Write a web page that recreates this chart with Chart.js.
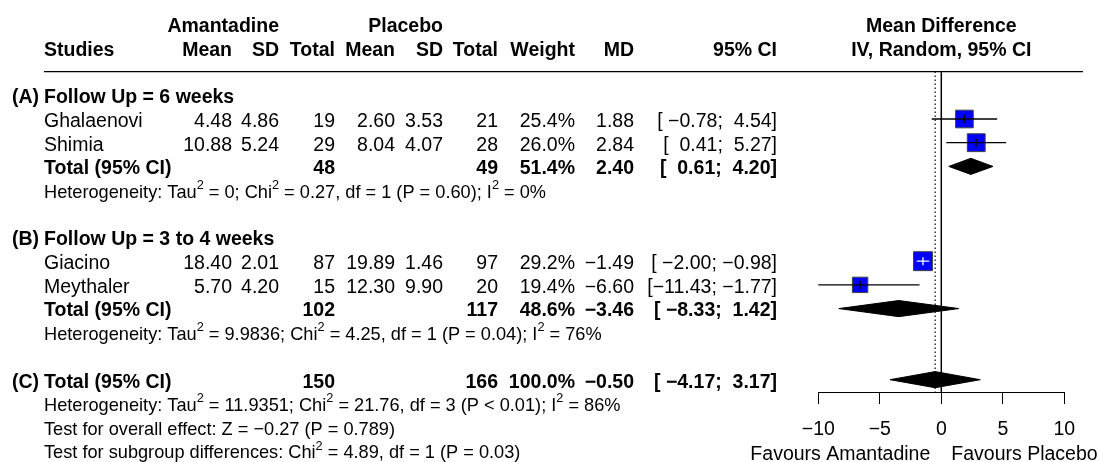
<!DOCTYPE html>
<html><head><meta charset="utf-8">
<script src="https://cdn.jsdelivr.net/npm/chart.js@4.4.1/dist/chart.umd.min.js"></script>
<style>html,body{margin:0;padding:0;background:#fff}#wrap{width:1099px;height:462px;position:relative}</style>
</head><body><div id="wrap"><canvas id="c"></canvas></div>
<script>
// ---------- data ----------
const studies   = ['Ghalaenovi', 'Shimia', 'Giacino', 'Meythaler'];
const studyGroup = [0, 0, 1, 1];
const amaMean   = [4.48, 10.88, 18.40, 5.70];
const amaSD     = [4.86, 5.24, 2.01, 4.20];
const amaN      = [19, 29, 87, 15];
const plaMean   = [2.60, 8.04, 19.89, 12.30];
const plaSD     = [3.53, 4.07, 1.46, 9.90];
const plaN      = [21, 28, 97, 20];
const weight    = [25.4, 26.0, 29.2, 19.4];
const md        = [1.88, 2.84, -1.49, -6.60];
const ciLow     = [-0.78, 0.41, -2.00, -11.43];
const ciHigh    = [4.54, 5.27, -0.98, -1.77];

const groupLabels = ['(A)', '(B)'];
const groupTitles = ['Follow Up = 6 weeks', 'Follow Up = 3 to 4 weeks'];
const groupAmaN   = [48, 102];
const groupPlaN   = [49, 117];
const groupWeight = [51.4, 48.6];
const groupMD     = [2.40, -3.46];
const groupLow    = [0.61, -8.33];
const groupHigh   = [4.20, 1.42];
const groupHet    = ['Heterogeneity: Tau{2} = 0; Chi{2} = 0.27, df = 1 (P = 0.60); I{2} = 0%',
                     'Heterogeneity: Tau{2} = 9.9836; Chi{2} = 4.25, df = 1 (P = 0.04); I{2} = 76%'];

const overallLabel  = '(C)';
const overallAmaN   = 150;
const overallPlaN   = 166;
const overallWeight = 100.0;
const overallMD     = -0.50;
const overallLow    = -4.17;
const overallHigh   = 3.17;
const overallTexts  = ['Heterogeneity: Tau{2} = 11.9351; Chi{2} = 21.76, df = 3 (P < 0.01); I{2} = 86%',
                       'Test for overall effect: Z = \u22120.27 (P = 0.789)',
                       'Test for subgroup differences: Chi{2} = 4.89, df = 1 (P = 0.03)'];

const xTicks = [-10, -5, 0, 5, 10];
const favourLabels = ['Favours Amantadine', 'Favours Placebo'];

// ---------- layout helpers ----------
const FONT = '"Liberation Sans", Arial, Helvetica, sans-serif';
const FS = 19.5, FS_HET = 18.2;
const TY = 2.5; // text vertical nudge
const COL = {group: 12, study: 44, amaMean: 232, amaSD: 279, amaN: 335, plaMean: 395, plaSD: 443,
             plaN: 498, weight: 575, md: 634, ci: 777};
const DH = 0.34; // diamond half-height (rows)

const nGroups = groupLabels.length;
const groupRow = [], totalRow = [], hetRow = [], studyRow = [];
let r = 0;
for (let g = 0; g < nGroups; g++) {
  groupRow[g] = r; r++;
  studies.forEach((s, i) => { if (studyGroup[i] === g) { studyRow[i] = r; r++; } });
  totalRow[g] = r; r++;
  hetRow[g] = r; r++;
  r++; // blank
}
const overallRow = r;

function fmt(v, d) { return (v < 0 ? '\u2212' : '') + Math.abs(v).toFixed(d); }
function pad(s, w) { while (s.length < w) s = ' ' + s; return s; }
function fmtCI(lo, hi) { return '[' + pad(fmt(lo, 2), 6) + '; ' + pad(fmt(hi, 2), 5) + ']'; }
function boxSide(i) { return 3.5 * Math.sqrt(weight[i]); }
function insideBox(i, chart) {
  const xs = chart.scales.x;
  if (!xs) return false;
  return Math.abs(xs.getPixelForValue(ciHigh[i]) - xs.getPixelForValue(ciLow[i])) < boxSide(i);
}
function diamond(lo, m, hi, row) {
  return [{x: lo, y: row}, {x: m, y: row - DH}, {x: hi, y: row}, {x: m, y: row + DH}, {x: lo, y: row}];
}

// ---------- datasets ----------
const datasets = [];
datasets.push({type: 'line', data: [{x: 0, y: -1}, {x: 0, y: overallRow + 0.52}], borderColor: '#000',
  borderWidth: 1.5, pointRadius: 0, order: 20});
datasets.push({type: 'line', data: [{x: overallMD, y: -1}, {x: overallMD, y: overallRow + 0.52}], borderColor: '#000',
  borderWidth: 1.2, borderDash: [1.5, 2.5], pointRadius: 0, order: 19});
for (let g = 0; g < nGroups; g++) {
  datasets.push({type: 'line', data: diamond(groupLow[g], groupMD[g], groupHigh[g], totalRow[g]),
    borderColor: '#000', backgroundColor: '#000', borderWidth: 1, fill: 'shape', pointRadius: 0, tension: 0, order: 10});
}
datasets.push({type: 'line', data: diamond(overallLow, overallMD, overallHigh, overallRow),
  borderColor: '#000', backgroundColor: '#000', borderWidth: 1, fill: 'shape', pointRadius: 0, tension: 0, order: 10});
datasets.push({type: 'scatter', data: md.map((v, i) => ({x: v, y: studyRow[i]})),
  pointStyle: 'rect', pointRadius: weight.map((w, i) => boxSide(i) / Math.SQRT2),
  backgroundColor: '#0000ff', borderColor: '#404040', borderWidth: 1, order: 5});
studies.forEach((s, i) => {
  datasets.push({type: 'line', data: [{x: ciLow[i], y: studyRow[i]}, {x: ciHigh[i], y: studyRow[i]}],
    borderColor: (ctx) => insideBox(i, ctx.chart) ? '#ffffff' : '#000000',
    borderWidth: 1.3, pointRadius: 0, order: 3});
});
datasets.push({type: 'scatter', data: md.map((v, i) => ({x: v, y: studyRow[i]})),
  pointStyle: 'line', rotation: 90, pointRadius: 4, borderWidth: 1.3,
  borderColor: (ctx) => (ctx.dataIndex !== undefined && insideBox(ctx.dataIndex, ctx.chart)) ? '#ffffff' : '#000000',
  order: 1});

// ---------- text plugin ----------
function rich(ctx, s, x, y, size) {
  const parts = s.split(/[{}]/);
  let cx = x;
  ctx.textAlign = 'left';
  parts.forEach((p, k) => {
    const sup = k % 2 === 1;
    ctx.font = `${sup ? size * 0.7 : size}px ${FONT}`;
    ctx.fillText(p, cx, sup ? y - size * 0.38 : y);
    cx += ctx.measureText(p).width;
  });
}
function txt(ctx, s, x, y, align, bold, size) {
  ctx.font = `${bold ? 'bold ' : ''}${size || FS}px ${FONT}`;
  ctx.textAlign = align;
  ctx.fillText(s, x, y);
}

const tablePlugin = {
  id: 'table',
  afterDraw(chart) {
    const ctx = chart.ctx, ys = chart.scales.y, xs = chart.scales.x;
    const Y = (row) => ys.getPixelForValue(row) + TY;
    const x0 = xs.getPixelForValue(0);
    ctx.save();
    ctx.fillStyle = '#000';
    ctx.textBaseline = 'middle';
    let y = Y(-3);
    txt(ctx, 'Amantadine', COL.amaSD, y, 'right', true);
    txt(ctx, 'Placebo', COL.plaSD, y, 'right', true);
    txt(ctx, 'Mean Difference', x0, y, 'center', true);
    y = Y(-2);
    txt(ctx, 'Studies', COL.study, y, 'left', true);
    txt(ctx, 'Mean', COL.amaMean, y, 'right', true);
    txt(ctx, 'SD', COL.amaSD, y, 'right', true);
    txt(ctx, 'Total', COL.amaN, y, 'right', true);
    txt(ctx, 'Mean', COL.plaMean, y, 'right', true);
    txt(ctx, 'SD', COL.plaSD, y, 'right', true);
    txt(ctx, 'Total', COL.plaN, y, 'right', true);
    txt(ctx, 'Weight', COL.weight, y, 'right', true);
    txt(ctx, 'MD', COL.md, y, 'right', true);
    txt(ctx, '95% CI', COL.ci, y, 'right', true);
    txt(ctx, 'IV, Random, 95% CI', x0, y, 'center', true);
    const ry = ys.getPixelForValue(-1);
    ctx.strokeStyle = '#000'; ctx.lineWidth = 1.2;
    ctx.beginPath(); ctx.moveTo(COL.study, ry); ctx.lineTo(1083, ry); ctx.stroke();
    for (let g = 0; g < nGroups; g++) {
      y = Y(groupRow[g]);
      txt(ctx, groupLabels[g], COL.group, y, 'left', true);
      txt(ctx, groupTitles[g], COL.study, y, 'left', true);
      studies.forEach((s, i) => {
        if (studyGroup[i] !== g) return;
        const yy = Y(studyRow[i]);
        txt(ctx, s, COL.study, yy, 'left');
        txt(ctx, amaMean[i].toFixed(2), COL.amaMean, yy, 'right');
        txt(ctx, amaSD[i].toFixed(2), COL.amaSD, yy, 'right');
        txt(ctx, String(amaN[i]), COL.amaN, yy, 'right');
        txt(ctx, plaMean[i].toFixed(2), COL.plaMean, yy, 'right');
        txt(ctx, plaSD[i].toFixed(2), COL.plaSD, yy, 'right');
        txt(ctx, String(plaN[i]), COL.plaN, yy, 'right');
        txt(ctx, weight[i].toFixed(1) + '%', COL.weight, yy, 'right');
        txt(ctx, fmt(md[i], 2), COL.md, yy, 'right');
        txt(ctx, fmtCI(ciLow[i], ciHigh[i]), COL.ci, yy, 'right');
      });
      y = Y(totalRow[g]);
      txt(ctx, 'Total (95% CI)', COL.study, y, 'left', true);
      txt(ctx, String(groupAmaN[g]), COL.amaN, y, 'right', true);
      txt(ctx, String(groupPlaN[g]), COL.plaN, y, 'right', true);
      txt(ctx, groupWeight[g].toFixed(1) + '%', COL.weight, y, 'right', true);
      txt(ctx, fmt(groupMD[g], 2), COL.md, y, 'right', true);
      txt(ctx, fmtCI(groupLow[g], groupHigh[g]), COL.ci, y, 'right', true);
      rich(ctx, groupHet[g], COL.study, Y(hetRow[g]), FS_HET);
    }
    y = Y(overallRow);
    txt(ctx, overallLabel, COL.group, y, 'left', true);
    txt(ctx, 'Total (95% CI)', COL.study, y, 'left', true);
    txt(ctx, String(overallAmaN), COL.amaN, y, 'right', true);
    txt(ctx, String(overallPlaN), COL.plaN, y, 'right', true);
    txt(ctx, overallWeight.toFixed(1) + '%', COL.weight, y, 'right', true);
    txt(ctx, fmt(overallMD, 2), COL.md, y, 'right', true);
    txt(ctx, fmtCI(overallLow, overallHigh), COL.ci, y, 'right', true);
    overallTexts.forEach((t, k) => rich(ctx, t, COL.study, Y(overallRow + 1 + k), FS_HET));
    const fy = xs.top + 63;
    txt(ctx, favourLabels[0], x0 - 11, fy, 'right', false);
    txt(ctx, favourLabels[1], x0 + 10, fy, 'left', false);
    ctx.restore();
  }
};

new Chart(document.getElementById('c'), {
  type: 'scatter',
  data: {datasets},
  options: {
    responsive: true, maintainAspectRatio: false, animation: false,
    layout: {padding: {left: 818.3, right: 34.7, top: 71.6, bottom: 0}},
    plugins: {legend: {display: false}, tooltip: {enabled: false}},
    scales: {
      x: {
        type: 'linear', min: xTicks[0], max: xTicks[xTicks.length - 1],
        afterBuildTicks: (s) => { s.ticks = xTicks.map(v => ({value: v})); },
        afterFit: (s) => { s.height = 70; },
        grid: {display: true, drawOnChartArea: false, drawTicks: true, tickLength: 12, color: '#000', lineWidth: 1},
        border: {display: true, color: '#000', width: 1},
        ticks: {color: '#000', padding: 14, font: {family: FONT, size: FS},
          callback: (v) => (v < 0 ? '\u2212' : '') + Math.abs(v)}
      },
      y: {type: 'linear', display: false, reverse: true, min: -1, max: overallRow + 0.52}
    }
  },
  plugins: [tablePlugin]
});
</script>
</body></html>
